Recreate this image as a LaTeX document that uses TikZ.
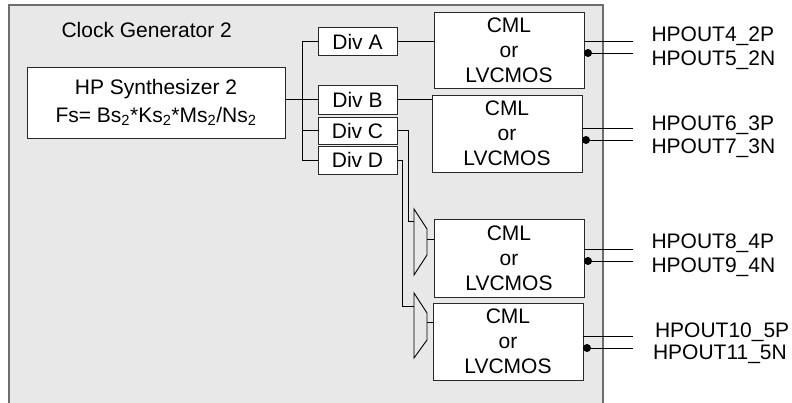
\documentclass[tikz,border=0pt]{standalone}
\usepackage{fontspec}
\setmainfont{Liberation Sans}
\definecolor{bggray}{RGB}{232,232,232}
\definecolor{bordergray}{RGB}{110,110,110}
\definecolor{boxline}{RGB}{40,40,40}
\begin{document}
\begin{tikzpicture}[x=1pt,y=-1pt,
  every node/.style={font=\fontsize{21}{25}\selectfont, inner sep=0pt, outer sep=0pt},
  blk/.style={draw=boxline, fill=white, line width=0.9pt},
  divbox/.style={blk, minimum width=79pt, minimum height=27.5pt},
  cmlbox/.style={blk, minimum width=150pt, minimum height=77pt, align=center},
  wire/.style={draw=black, line width=0.9pt},
  muxshape/.style={draw=black, line width=0.9pt, fill=bggray},
  lbl/.style={anchor=base west},
  jdot/.style={circle, fill=black, minimum size=8pt, inner sep=0pt}]
\useasboundingbox (0,0) rectangle (792,402);
\begin{scope}
  \clip (0,0) rectangle (792,402);
  \draw[fill=bggray, draw=bordergray, line width=2pt] (9,5) rectangle (603,430);
\end{scope}

% title
\node[lbl] (title) at (61.5,37) {Clock Generator 2};

% synthesizer
\node[blk, minimum width=258pt, minimum height=71pt, align=center,
      font=\fontsize{21}{27.5}\selectfont] (synth) at (156,102.5)
  {HP Synthesizer 2\\Fs= Bs\textsubscript{2}*Ks\textsubscript{2}*Ms\textsubscript{2}/Ns\textsubscript{2}};

% dividers
\node[divbox] (divA) at (357.5,41.5) {Div A};
\node[divbox, minimum height=29pt] (divB) at (357.5,99.5) {Div B};
\node[divbox, minimum height=27pt] (divC) at (357.5,130.5) {Div C};
\node[divbox, minimum height=28pt] (divD) at (357.5,160) {Div D};

% output buffers
\node[cmlbox, minimum height=76pt] (cml1) at (509,50) {CML\\or\\LVCMOS};
\node[cmlbox] (cml2) at (507,133.5) {CML\\or\\LVCMOS};
\node[cmlbox, minimum height=78pt] (cml3) at (509,258) {CML\\or\\LVCMOS};
\node[cmlbox] (cml4) at (508,341.5) {CML\\or\\LVCMOS};

% muxes
\draw[muxshape] (414,209) -- (427,229) -- (427,255) -- (414,275) -- cycle;
\draw[muxshape] (414,293) -- (427,313) -- (427,340) -- (414,358) -- cycle;
\coordinate (mux1in) at (414,221);
\coordinate (mux1out) at (427,239);
\coordinate (mux2in) at (414,306);
\coordinate (mux2out) at (427,322);

% bus from synthesizer
\coordinate (busx) at (302,0);
\draw[wire] (synth.east |- divB.west) -- (divB.west);
\draw[wire] (busx |- divA.west) -- (busx |- divD.west);
\draw[wire] (busx |- divA.west) -- (divA.west);
\draw[wire] (busx |- divC.west) -- (divC.west);
\draw[wire] (busx |- divD.west) -- (divD.west);

% divider outputs
\draw[wire] (divA.east) -- (divA.east -| cml1.west);
\draw[wire] (divB.east) -- (divB.east -| cml2.west);
\draw[wire] (divC.east) -- ++(11,0) |- (mux1in);
\draw[wire] (divD.east) -- ++(5,0) |- (mux2in);
\draw[wire] (mux1out) -- (mux1out -| cml3.west);
\draw[wire] (mux2out) -- (mux2out -| cml4.west);

% output pins
\coordinate (p1) at (633,41);  \coordinate (n1) at (633,53);
\coordinate (p2) at (633,128); \coordinate (n2) at (633,140);
\coordinate (p3) at (633,249); \coordinate (n3) at (633,261);
\coordinate (p4) at (633,336); \coordinate (n4) at (633,348);
\foreach \i in {1,2,3,4}{
  \draw[wire] (p\i -| cml\i.east) -- (p\i);
  \draw[wire] (n\i -| cml\i.east) -- (n\i);
  \node[jdot] at ([xshift=4pt]n\i -| cml\i.east) {};
}

% labels
\node[lbl] (l4) at (651.5,41) {HPOUT4\_2P};
\node[lbl] (l5) at (651.5,65) {HPOUT5\_2N};
\node[lbl] (l6) at (651.5,130) {HPOUT6\_3P};
\node[lbl] (l7) at (651.5,153) {HPOUT7\_3N};
\node[lbl] (l8) at (651.5,248) {HPOUT8\_4P};
\node[lbl] (l9) at (651.5,272) {HPOUT9\_4N};
\node[lbl] (l10) at (655,337) {HPOUT10\_5P};
\node[lbl] (l11) at (653,359) {HPOUT11\_5N};
\end{tikzpicture}
\end{document}
